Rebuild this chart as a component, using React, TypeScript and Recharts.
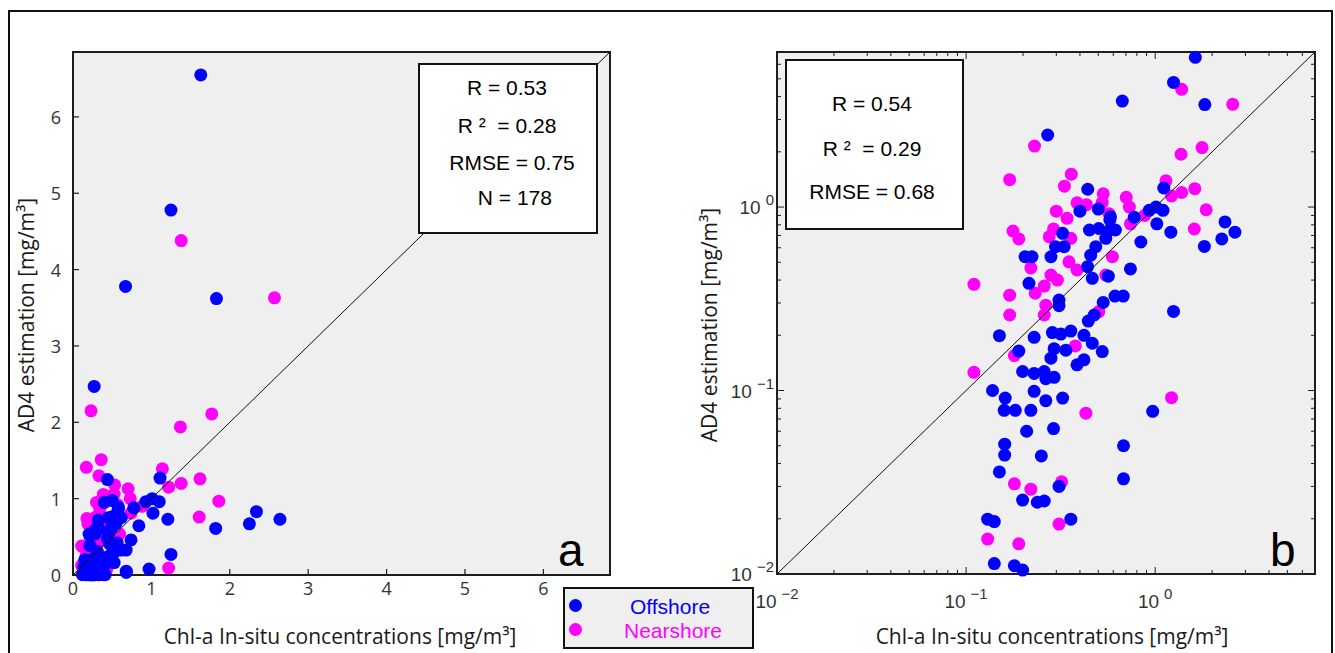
import {
  ScatterChart,
  Scatter,
  XAxis,
  YAxis,
  CartesianGrid,
  ReferenceLine,
  ReferenceArea,
} from "recharts";

// Chl-a in-situ (x) vs AD4 estimation (y), mg/m3
const offshoreChl = [
  0.67, 0.27, 0.44, 0.4, 0.5, 0.58, 0.775, 0.93, 1.63, 1.25, 1.83, 1.11, 1.01, 1.1, 2.34, 1.02,
  2.64, 2.25, 1.82, 1.21, 0.84, 0.74, 1.25, 0.97, 0.68, 0.68, 0.138, 0.161, 0.229, 0.324, 0.264,
  0.159, 0.182, 0.22, 0.209, 0.29, 0.16, 0.16, 0.25, 0.15, 0.31, 0.199, 0.238, 0.259, 0.13, 0.141,
  0.358, 0.141, 0.18, 0.199, 0.15, 0.19, 0.229, 0.199, 0.229, 0.259, 0.292, 0.264, 0.205, 0.223,
  0.215, 0.31, 0.31, 0.281, 0.297, 0.33, 0.324, 0.439, 0.465, 0.565, 0.449, 0.503, 0.576, 0.616,
  0.548, 0.485, 0.456, 0.576, 0.531, 0.613, 0.678, 0.476, 0.443, 0.286, 0.317, 0.358, 0.42, 0.465,
  0.525, 0.337, 0.292, 0.281, 0.386, 0.42,
  0.12, 0.14, 0.17, 0.19, 0.21, 0.23, 0.24, 0.26, 0.28, 0.31, 0.33, 0.37, 0.41, 0.22, 0.3, 0.16,
];
const offshoreAd4 = [
  3.78, 2.47, 1.25, 0.95, 0.975, 0.885, 0.88, 0.96, 6.55, 4.78, 3.62, 1.27, 1.0, 0.96, 0.83, 0.81,
  0.73, 0.67, 0.61, 0.73, 0.645, 0.46, 0.27, 0.077, 0.05, 0.033, 0.1, 0.091, 0.099, 0.091, 0.088,
  0.078, 0.078, 0.078, 0.06, 0.062, 0.051, 0.0445, 0.044, 0.036, 0.03, 0.0253, 0.0246, 0.025,
  0.0199, 0.0193, 0.0199, 0.0114, 0.0111, 0.0105, 0.199, 0.164, 0.195, 0.127, 0.124, 0.127, 0.118,
  0.116, 0.536, 0.536, 0.384, 0.311, 0.29, 0.536, 0.608, 0.608, 0.719, 0.473, 0.409, 0.42, 0.75,
  0.764, 0.75, 0.75, 0.675, 0.608, 0.547, 0.85, 0.302, 0.327, 0.327, 0.258, 0.239, 0.207, 0.203,
  0.211, 0.2, 0.181, 0.163, 0.166, 0.169, 0.15, 0.138, 0.147,
  0.004, 0.007, 0.002, 0.006, 0.003, 0.008, 0.001, 0.005, 0.003, 0.007, 0.002, 0.005, 0.004, 0.006,
  0.009, 0.005,
];
const nearshoreChl = [
  0.23, 0.17, 0.36, 0.331, 0.531, 0.703, 0.386, 0.433, 0.3, 0.342, 0.73, 1.38, 2.57, 1.77, 1.37,
  1.14, 1.62, 1.38, 1.22, 1.86, 1.61, 1.22, 0.43, 0.18, 0.22, 0.32, 0.31, 0.13, 0.19, 0.177, 0.19,
  0.11, 0.17, 0.17, 0.11, 0.18, 0.22, 0.232, 0.259, 0.281, 0.304, 0.264, 0.259, 0.275, 0.358, 0.35,
  0.386, 0.548, 0.594, 0.503, 0.378, 0.525, 0.57, 0.29, 0.74, 0.88,
  0.15, 0.27, 0.34, 0.39, 0.2,
];
const nearshoreAd4 = [
  2.15, 1.41, 1.51, 1.3, 1.18, 1.13, 1.055, 1.03, 0.95, 0.868, 1.0, 4.38, 3.63, 2.11, 1.94, 1.39,
  1.26, 1.2, 1.15, 0.967, 0.759, 0.0914, 0.0753, 0.031, 0.029, 0.0318, 0.0187, 0.0155, 0.0146, 0.74,
  0.67, 0.379, 0.331, 0.258, 0.1257, 0.155, 0.466, 0.339, 0.371, 0.426, 0.4, 0.292, 0.258, 0.689,
  0.675, 0.503, 0.454, 0.426, 0.536, 0.269, 0.175, 1.06, 0.92, 0.76, 0.81, 0.9,
  0.008, 0.004, 0.006, 0.002, 0.003,
];

const statsA = ["R = 0.53", "R \u00b2  = 0.28", "RMSE = 0.75", " N = 178"];
const statsB = ["R = 0.54", "R \u00b2  = 0.29", "RMSE = 0.68"];

const linTicks = [0, 1, 2, 3, 4, 5, 6];
const linMax = 6.85;
const logTicks = [
  0.01, 0.02, 0.03, 0.04, 0.05, 0.06, 0.07, 0.08, 0.09, 0.1, 0.2, 0.3, 0.4, 0.5, 0.6, 0.7, 0.8, 0.9,
  1, 2, 3, 4, 5, 6, 7,
];
const logMajor = [0.01, 0.1, 1];
const logExp = ["\u22122", "\u22121", "0"];
const logMin = 0.01;
const logMax = 7;

const BLUE = "#0000ff";
const MAGENTA = "#ff00ff";
const FRAME = "#1e1e1e";
const TICK_TXT = "#333";
const TITLE_FONT = "'Open Sans', sans-serif";
const ARIAL = "'Liberation Sans', Arial, sans-serif";

// plot sizes (inner plotting area) for mirrored ticks
const A = { w: 537, h: 523 };
const B = { w: 538, h: 522 };

const toPoints = (xs: number[], ys: number[]) => xs.map((x, i) => ({ x, y: ys[i] }));
const offshore = toPoints(offshoreChl, offshoreAd4);
const nearshore = toPoints(nearshoreChl, nearshoreAd4);
const inLog = (p: { x: number; y: number }) => p.x >= logMin && p.y >= logMin;
const offshoreLog = offshore.filter(inLog);
const nearshoreLog = nearshore.filter(inLog);

const dot = (color: string) => (p: any) => <circle cx={p.cx} cy={p.cy} r={6.5} fill={color} />;

function LinXTick(props: any) {
  const { x, y, payload } = props;
  return (
    <g>
      <line x1={x} x2={x} y1={y} y2={y - 6} stroke={FRAME} strokeWidth={1.2} />
      <text x={x} y={y + 20} textAnchor="middle" fontFamily={TITLE_FONT} fontSize={18} fill={TICK_TXT}>
        {payload.value}
      </text>
    </g>
  );
}

function LinYTick(props: any) {
  const { x, y, payload } = props;
  return (
    <g>
      <line x1={x} x2={x + 6} y1={y} y2={y} stroke={FRAME} strokeWidth={1.2} />
      <text x={x - 12} y={y + 7} textAnchor="end" fontFamily={TITLE_FONT} fontSize={18} fill={TICK_TXT}>
        {payload.value}
      </text>
    </g>
  );
}

function LogXTick(props: any) {
  const { x, y, payload } = props;
  const i = logMajor.indexOf(payload.value);
  const len = i >= 0 ? 7 : 4;
  return (
    <g>
      <line x1={x} x2={x} y1={y} y2={y - len} stroke={FRAME} />
      <line x1={x} x2={x} y1={y - B.h} y2={y - B.h + len} stroke={FRAME} />
      {i >= 0 && (
        <text x={x} y={y + 34} textAnchor="middle" fontFamily={ARIAL} fontSize={19} fill={TICK_TXT}>
          <tspan>10</tspan>
          <tspan dx={5} dy={-9} fontSize={15}>
            {logExp[i]}
          </tspan>
        </text>
      )}
    </g>
  );
}

function LogYTick(props: any) {
  const { x, y, payload } = props;
  const i = logMajor.indexOf(payload.value);
  const len = i >= 0 ? 7 : 4;
  return (
    <g>
      <line x1={x} x2={x + len} y1={y} y2={y} stroke={FRAME} />
      <line x1={x + B.w} x2={x + B.w - len} y1={y} y2={y} stroke={FRAME} />
      {i >= 0 && (
        <text x={x - 3} y={y + 7} textAnchor="end" fontFamily={ARIAL} fontSize={19} fill={TICK_TXT}>
          <tspan>10</tspan>
          <tspan dx={5} dy={-9} fontSize={15}>
            {logExp[i]}
          </tspan>
        </text>
      )}
    </g>
  );
}

const abs = (left: number, top: number, extra: any = {}): any => ({
  position: "absolute",
  left,
  top,
  ...extra,
});

const centered = (cx: number, cy: number, extra: any = {}): any =>
  abs(cx, cy, {
    transform: "translate(-50%, -50%)",
    whiteSpace: "pre",
    lineHeight: 1,
    ...extra,
  });

function StatsBox({ left, top, w, h, cx, rows, ys }: any) {
  return (
    <>
      <div
        style={abs(left, top, {
          width: w,
          height: h,
          boxSizing: "border-box",
          border: "2px solid #111",
          background: "#fff",
        })}
      />
      {rows.map((r: string, i: number) => (
        <div key={r} style={centered(cx[i] ?? cx[0], ys[i], { fontFamily: ARIAL, fontSize: 21, color: "#000" })}>
          {r}
        </div>
      ))}
    </>
  );
}

export default function App() {
  const title = { fontFamily: TITLE_FONT, fontSize: 21, color: "#1a1a1a" };
  return (
    <div
      style={{
        position: "absolute",
        left: 0,
        top: 0,
        width: 1335,
        height: 653,
        overflow: "hidden",
        background: "#fff",
      }}
    >
      <div
        style={abs(8, 10, {
          width: 1325,
          height: 700,
          boxSizing: "border-box",
          border: "2px solid #111",
        })}
      />

      {/* panel a: linear axes */}
      <div style={abs(0, 0)}>
        <ScatterChart width={640} height={653} margin={{ top: 52, right: 30, bottom: 48, left: 13 }}>
          <CartesianGrid horizontal={false} vertical={false} fill="#efefef" fillOpacity={1} />
          <XAxis
            type="number"
            dataKey="x"
            domain={[0, linMax]}
            ticks={linTicks}
            interval={0}
            tickSize={0}
            tickMargin={0}
            tick={LinXTick}
            axisLine={false}
            height={30}
          />
          <YAxis
            type="number"
            dataKey="y"
            domain={[0, linMax]}
            ticks={linTicks}
            interval={0}
            tickSize={0}
            tickMargin={0}
            tick={LinYTick}
            axisLine={false}
            width={60}
          />
          <ReferenceArea x1={0} x2={linMax} y1={0} y2={linMax} fill="none" stroke={FRAME} strokeWidth={2} />
          <Scatter data={nearshore} shape={dot(MAGENTA)} isAnimationActive={false} />
          <Scatter data={offshore} shape={dot(BLUE)} isAnimationActive={false} />
          <ReferenceLine
            segment={[
              { x: 0, y: 0 },
              { x: linMax, y: linMax },
            ]}
            stroke="#111"
            strokeWidth={1}
            zIndex={700}
          />
        </ScatterChart>
      </div>

      {/* panel b: log-log axes */}
      <div style={abs(680, 0)}>
        <ScatterChart width={655} height={653} margin={{ top: 52, right: 20, bottom: 49, left: 37 }}>
          <CartesianGrid horizontal={false} vertical={false} fill="#efefef" fillOpacity={1} />
          <XAxis
            type="number"
            dataKey="x"
            scale="log"
            domain={[logMin, logMax]}
            ticks={logTicks}
            interval={0}
            tickSize={0}
            tickMargin={0}
            tick={LogXTick}
            axisLine={false}
            height={30}
          />
          <YAxis
            type="number"
            dataKey="y"
            scale="log"
            domain={[logMin, logMax]}
            ticks={logTicks}
            interval={0}
            tickSize={0}
            tickMargin={0}
            tick={LogYTick}
            axisLine={false}
            width={60}
          />
          <ReferenceArea x1={logMin} x2={logMax} y1={logMin} y2={logMax} fill="none" stroke={FRAME} strokeWidth={2} />
          <Scatter data={nearshoreLog} shape={dot(MAGENTA)} isAnimationActive={false} />
          <Scatter data={offshoreLog} shape={dot(BLUE)} isAnimationActive={false} />
          <ReferenceLine
            segment={[
              { x: logMin, y: logMin },
              { x: logMax, y: logMax },
            ]}
            stroke="#111"
            strokeWidth={1}
            zIndex={700}
          />
        </ScatterChart>
      </div>

      {/* axis titles */}
      <div style={centered(340, 636, title)}>Chl-a In-situ concentrations [mg/m³]</div>
      <div style={centered(1052, 636, title)}>Chl-a In-situ concentrations [mg/m³]</div>
      <div style={centered(26, 315, { ...title, transform: "translate(-50%, -50%) rotate(-90deg)" })}>
        AD4 estimation [mg/m³]
      </div>
      <div style={centered(709, 325, { ...title, transform: "translate(-50%, -50%) rotate(-90deg)" })}>
        AD4 estimation [mg/m³]
      </div>

      {/* statistics boxes */}
      <StatsBox left={418} top={63} w={180} h={171} cx={[507, 507, 512, 512]} rows={statsA} ys={[87, 125, 162, 197]} />
      <StatsBox left={785} top={59} w={179} h={171} cx={[872]} rows={statsB} ys={[103, 148, 191]} />

      {/* panel letters */}
      <div style={abs(558, 550, { fontFamily: ARIAL, fontSize: 46, lineHeight: 0, color: "#000" })}>a</div>
      <div style={abs(1270, 550, { fontFamily: ARIAL, fontSize: 46, lineHeight: 0, color: "#000" })}>b</div>

      {/* legend */}
      <div
        style={abs(563, 587, {
          width: 191,
          height: 62,
          boxSizing: "border-box",
          border: "2px solid #111",
          background: "#efefef",
        })}
      />
      <div style={abs(569, 599, { width: 13, height: 13, borderRadius: "50%", background: BLUE })} />
      <div style={abs(569, 623, { width: 13, height: 13, borderRadius: "50%", background: MAGENTA })} />
      <div style={centered(670, 606, { fontFamily: ARIAL, fontSize: 21, color: BLUE })}>Offshore</div>
      <div style={centered(673, 630, { fontFamily: ARIAL, fontSize: 21, color: MAGENTA })}>Nearshore</div>
    </div>
  );
}
